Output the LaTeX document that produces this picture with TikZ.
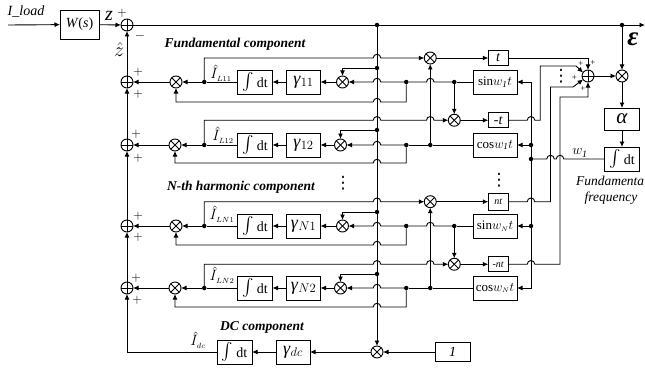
\RequirePackage{fix-cm}
\documentclass[tikz,border=0pt]{standalone}
\usepackage{fontspec}
\setmainfont{Liberation Serif}
\newfontfamily\symfont{DejaVu Sans}
\usetikzlibrary{calc, positioning, arrows.meta}

% hump over a vertical line, drawn left to right
\newcommand{\hop}[1]{-- ([xshift=-3.75pt]#1) arc[start angle=180,end angle=0,radius=3.75pt]}
\newcommand{\intdt}{\scalebox{1.7}{$\int$} dt}

\begin{document}
\begin{tikzpicture}[
        x=1pt, y=-1pt,
        font=\fontsize{14}{16}\selectfont,
        >={Latex[length=5.5pt,width=5pt]},
        line width=0.9pt,
        every node/.append style={outer sep=0pt},
        blk/.style={
            draw,
            inner sep=0pt,
            minimum width=35pt,
            minimum height=24pt
        },
        gamblk/.style={blk, minimum width=34pt, font=\fontsize{18}{20}\selectfont},
        funcblk/.style={blk, minimum width=44pt, font=\fontsize{13}{15}\selectfont},
        timeblk/.style={blk, minimum width=20pt, minimum height=15pt},
        sumnode/.style={
            circle, draw, inner sep=0pt, minimum size=12pt,
            path picture={
                \draw (path picture bounding box.north) -- (path picture bounding box.south);
                \draw (path picture bounding box.west) -- (path picture bounding box.east);
            }
        },
        multnode/.style={
            circle, draw, inner sep=0pt, minimum size=12pt,
            path picture={
                \draw (path picture bounding box.north west) -- (path picture bounding box.south east);
                \draw (path picture bounding box.south west) -- (path picture bounding box.north east);
            }
        },
        dotnode/.style={circle, fill, inner sep=0pt, minimum size=4.5pt},
        title/.style={font=\fontsize{13.5}{15}\selectfont\bfseries\itshape},
        sign/.style={font=\fontsize{13}{13}\selectfont, inner sep=0pt},
        smallsign/.style={font=\fontsize{9}{9}\selectfont, inner sep=0pt},
        vdotslbl/.style={font=\fontsize{17}{17}\selectfont\symfont, inner sep=0pt}
    ]
    \useasboundingbox (0,0) rectangle (645,369);

    % --- INPUT ---
    \coordinate (load) at (8,25);
    \node[blk, minimum width=39pt, minimum height=29pt] (plant) at (79.5,24.5) {\textit{W}(\textit{s})};
    \node[sumnode] (sumT) at (127,25) {};
    \node[dotnode] (eBus) at (377,25) {};
    \node[dotnode] (eR) at (622,25) {};
    \coordinate (eEnd) at (645,25);

    % --- ROW 1 ---
    \node[sumnode] (sum1) at (127,82) {};
    \node[multnode, right=37pt of sum1] (mA1) {};
    \node[dotnode, right=20pt of mA1] (dA1) {};
    \node[blk, right=31pt of dA1] (int1) {\intdt};
    \node[gamblk, right=14pt of int1] (gam1) {\textit{γ}$_{11}$};
    \node[multnode, right=16pt of gam1] (mB1) {};
    \node[dotnode, right=55.5pt of mB1] (dB1) {};
    \node[dotnode, right=43.5pt of dB1] (dD1) {};
    \node[funcblk, right=16.5pt of dD1] (f1) {sin$w_{\mathit{1}}t$};
    \coordinate[below=17.75pt of dB1] (lo1);
    \node[dotnode] (bus1) at (377,68) {};

    % --- ROW 2 ---
    \node[sumnode, below=51pt of sum1] (sum2) {};
    \node[multnode, right=36pt of sum2] (mA2) {};
    \node[dotnode, right=21pt of mA2] (dA2) {};
    \node[blk, right=31pt of dA2] (int2) {\intdt};
    \node[gamblk, right=14pt of int2] (gam2) {\textit{γ}$_{12}$};
    \node[multnode, right=14pt of gam2] (mB2) {};
    \node[dotnode, right=57.5pt of mB2] (dB2) {};
    \node[dotnode, right=19.5pt of dB2] (dC2) {};
    \node[funcblk, right=40.5pt of dC2] (f2) {cos$w_{\mathit{1}}t$};
    \coordinate[below=15.75pt of dB2] (lo2);
    \node[dotnode] (bus2) at (377,130) {};

    % --- ROW 3 ---
    \node[sumnode, below=69pt of sum2] (sum3) {};
    \node[multnode, right=37pt of sum3] (mA3) {};
    \node[dotnode, right=20pt of mA3] (dA3) {};
    \node[blk, right=31pt of dA3] (int3) {\intdt};
    \node[gamblk, right=14pt of int3] (gam3) {\textit{γ}$_{N1}$};
    \node[multnode, right=16pt of gam3] (mB3) {};
    \node[dotnode, right=55.5pt of mB3] (dB3) {};
    \node[dotnode, right=43.5pt of dB3] (dD3) {};
    \node[funcblk, right=16.5pt of dD3] (f3) {sin$w_{\scriptscriptstyle N}t$};
    \coordinate[below=16.75pt of dB3] (lo3);
    \node[dotnode] (bus3) at (377,212) {};

    % --- ROW 4 ---
    \node[sumnode, below=50pt of sum3] (sum4) {};
    \node[multnode, right=36pt of sum4] (mA4) {};
    \node[dotnode, right=21pt of mA4] (dA4) {};
    \node[blk, right=31pt of dA4] (int4) {\intdt};
    \node[gamblk, right=14pt of int4] (gam4) {\textit{γ}$_{N2}$};
    \node[multnode, right=14pt of gam4] (mB4) {};
    \node[dotnode, right=57.5pt of mB4] (dB4) {};
    \node[dotnode, right=19.5pt of dB4] (dC4) {};
    \node[funcblk, right=40.5pt of dC4] (f4) {cos$w_{\scriptscriptstyle N}t$};
    \coordinate[below=16.75pt of dB4] (lo4);
    \node[dotnode] (bus4) at (377,274) {};

    % --- TIME MULTIPLIERS ---
    \node[multnode] (mC1) at (430.25,58) {};
    \node[timeblk, right=52pt of mC1] (t1) {\textit{t}};
    \node[multnode, below=30pt of dD1] (mD1) {};
    \node[timeblk, right=28pt of mD1] (t2) {-\textit{t}};
    \node[multnode] (mC3) at (430.25,201.7) {};
    \node[timeblk, minimum height=17pt, right=52pt of mC3, font=\fontsize{10}{10}\selectfont] (t3) {\textit{nt}};
    \node[multnode, below=30pt of dD3] (mD3) {};
    \node[timeblk, right=28pt of mD3, font=\fontsize{10}{10}\selectfont] (t4) {-\textit{nt}};

    % --- DC ---
    \node[multnode] (mE) at (377,352) {};
    \node[gamblk, left=61pt of mE] (gamD) {\textit{γ}$_{dc}$};
    \node[blk, left=24pt of gamD] (intD) {\intdt};
    \node[blk, minimum height=19pt, right=52pt of mE] (one) {\textit{1}};

    % --- RIGHT SIDE ---
    \node[sumnode] (sumR) at (588,76) {};
    \node[multnode] (mR) at (622,76) {};
    \node[blk, minimum height=22pt, below=26pt of mR, font=\fontsize{21}{21}\selectfont] (alpha) {\textit{α}};
    \node[blk, below=17pt of alpha] (intF) {\intdt};
    \node[dotnode] (vE2) at (531,145) {};
    \node[dotnode] (vW) at (531,159) {};
    \node[dotnode] (vE3) at (531,226) {};
    \coordinate (pT3) at (550.5,87);
    \coordinate (pT4) at (560,97);

    % --- LABELS ---
    \node[inner sep=0pt] (lblLoad) at (26,12) {\textit{I\_load}};
    \node[inner sep=0pt, font=\fontsize{20}{20}\selectfont\itshape] (lblZ) at (109,16) {z};
    \node[inner sep=0pt, font=\fontsize{20}{20}\selectfont] (lblZh) at (119,50) {$\hat{z}$};
    \node[inner sep=0pt, font=\fontsize{27}{27}\selectfont\bfseries\itshape] (lblEps) at (633,39) {ε};
    \node[title] (lblFund) at (235,44) {Fundamental component};
    \node[title] (lblHarm) at (241,187) {N-th harmonic component};
    \node[title] (lblDc) at (262,327) {DC component};
    \node[inner sep=0pt, font=\fontsize{15}{17}\selectfont] (lblI1) at (221,73) {$\hat{I}_{\scriptscriptstyle L11}$};
    \node[inner sep=0pt, font=\fontsize{15}{17}\selectfont] (lblI2) at (223,135) {$\hat{I}_{\scriptscriptstyle L12}$};
    \node[inner sep=0pt, font=\fontsize{15}{17}\selectfont] (lblI3) at (222,214) {$\hat{I}_{\scriptscriptstyle LN1}$};
    \node[inner sep=0pt, font=\fontsize{15}{17}\selectfont] (lblI4) at (222,275) {$\hat{I}_{\scriptscriptstyle LN2}$};
    \node[inner sep=0pt, font=\fontsize{15}{17}\selectfont] (lblId) at (198,340) {$\hat{I}_{\scriptscriptstyle dc}$};
    \node[inner sep=0pt] (lblW) at (580,153) {$w_{\mathit{1}}$};
    \node[inner sep=0pt, anchor=west, font=\fontsize{13.5}{15}\selectfont\itshape] (lblFreqA) at (576,181) {Fundamenta};
    \node[inner sep=0pt, font=\fontsize{13.5}{15}\selectfont\itshape] (lblFreqB) at (611,198) {frequency};
    \node[vdotslbl] (vdA) at (343,183) {⋮};
    \node[vdotslbl] (vdB) at (499,180) {⋮};
    \node[vdotslbl] (vdC) at (561,76) {⋮};

    % --- SIGNS ---
    \node[sign] (pT) at (122,13) {$+$};
    \node[sign] (nT) at (140,36) {$-$};
    \node[sign] (p1a) at (138,72) {$+$};
    \node[sign] (p1b) at (138,94) {$+$};
    \node[sign] (p2a) at (136,134) {$+$};
    \node[sign] (p2b) at (138,158) {$+$};
    \node[sign] (p3a) at (138,216) {$+$};
    \node[sign] (p3b) at (138,237) {$+$};
    \node[sign] (p4a) at (136,278) {$+$};
    \node[sign] (p4b) at (137,300) {$+$};
    \node[smallsign] (pRa) at (581,64) {+};
    \node[smallsign] (pRb) at (593,63) {+};
    \node[smallsign] (pRc) at (574.5,78) {+};
    \node[smallsign] (pRd) at (583,89) {+};

    % --- ARROWS ---
    \draw[->] (load) -- (plant);
    \draw[->] (plant) -- (sumT);
    \draw (sumT) -- (eBus);
    \draw (eBus) -- (eR);
    \draw[->] (eR) -- (eEnd);
    \draw[->] (eR) -- (mR);
    \draw[->] (sumR) -- (mR);
    \draw[->] (mR) -- (alpha);
    \draw[->] (alpha) -- (intF);
    \draw (vW) \hop{pT3|-vW} \hop{pT4|-vW} -- (intF);

    \draw[->] (sum1) -- (sumT);
    \draw[->] (sum2) -- (sum1);
    \draw[->] (sum3) -- (sum2);
    \draw[->] (sum4) -- (sum3);
    \draw[->] (intD) -| (sum4);
    \draw (eBus) -- (bus1) -- (bus2) -- (bus3) -- (bus4);
    \draw[->] (bus4) -- (mE);
    \draw[->] (mE) -- (gamD);
    \draw[->] (gamD) -- (intD);
    \draw[->] (one) -- (mE);

    % row 1
    \draw[->] (mA1) -- (sum1);
    \draw[->] (dA1) -- (mA1);
    \draw (int1) -- (dA1);
    \draw[->] (gam1) -- (int1);
    \draw[->] (mB1) -- (gam1);
    \draw[->] (bus1) -| (mB1);
    \draw[<-] (mB1) \hop{eBus|-mB1} -- (dB1);
    \draw (dB1) \hop{dC2|-dB1} -- (dD1);
    \draw (dD1) -- (f1);
    \draw[<-] (mA1) -- (mA1|-lo1) \hop{eBus|-lo1} -- (lo1) -- (dB1);
    \draw[->] (dA1) -- (dA1|-mC1) \hop{eBus|-mC1} -- (mC1);
    \draw[->] (mC1) -- (t1);
    \draw[->] (t1) -| (sumR);
    \draw[->] (dD1) -- (mD1);

    % row 2
    \draw[->] (mA2) -- (sum2);
    \draw[->] (dA2) -- (mA2);
    \draw (int2) -- (dA2);
    \draw[->] (gam2) -- (int2);
    \draw[->] (mB2) -- (gam2);
    \draw[->] (bus2) -| (mB2);
    \draw[<-] (mB2) \hop{eBus|-mB2} -- (dB2);
    \draw (dB2) -- (dC2) -- (f2);
    \draw[<-] (mA2) -- (mA2|-lo2) \hop{eBus|-lo2} -- (lo2) -- (dB2);
    \draw[->] (dA2) -- (dA2|-mD1) \hop{eBus|-mD1} \hop{dC2|-mD1} -- (mD1);
    \draw[->] (mD1) -- (t2);
    \draw[->] (t2) \hop{vE2|-t2} -- ++(5.5,0) |- (576,66) -- (sumR.145);
    \draw[->] (dC2) -- (mC1);

    % row 3
    \draw[->] (mA3) -- (sum3);
    \draw[->] (dA3) -- (mA3);
    \draw (int3) -- (dA3);
    \draw[->] (gam3) -- (int3);
    \draw[->] (mB3) -- (gam3);
    \draw[->] (bus3) -| (mB3);
    \draw[<-] (mB3) \hop{eBus|-mB3} -- (dB3);
    \draw (dB3) \hop{dC4|-dB3} -- (dD3);
    \draw (dD3) -- (f3);
    \draw[<-] (mA3) -- (mA3|-lo3) \hop{eBus|-lo3} -- (lo3) -- (dB3);
    \draw[->] (dA3) -- (dA3|-mC3) \hop{eBus|-mC3} -- (mC3);
    \draw[->] (mC3) -- (t3);
    \draw[->] (t3) \hop{vE2|-t3} -| (pT3) -- (573,87) -- (sumR.215);
    \draw[->] (dD3) -- (mD3);

    % row 4
    \draw[->] (mA4) -- (sum4);
    \draw[->] (dA4) -- (mA4);
    \draw (int4) -- (dA4);
    \draw[->] (gam4) -- (int4);
    \draw[->] (mB4) -- (gam4);
    \draw[->] (bus4) -| (mB4);
    \draw[<-] (mB4) \hop{eBus|-mB4} -- (dB4);
    \draw (dB4) -- (dC4) -- (f4);
    \draw[<-] (mA4) -- (mA4|-lo4) \hop{eBus|-lo4} -- (lo4) -- (dB4);
    \draw[->] (dA4) -- (dA4|-mD3) \hop{eBus|-mD3} \hop{dC4|-mD3} -- (mD3);
    \draw[->] (mD3) -- (t4);
    \draw[->] (t4) \hop{vE2|-t4} -| (pT4) -- (sumR|-pT4) -- (sumR);
    \draw[->] (dC4) -- (mC3);

    % sine and cosine feeds
    \draw[->] (vE2) |- (f1);
    \draw[->] (vE2) -- (f2);
    \draw (vE2) -- (vW) -- (vE3);
    \draw[->] (vE3) -- (f3);
    \draw[->] (vE3) |- (f4);

    \end{tikzpicture}
\end{document}
